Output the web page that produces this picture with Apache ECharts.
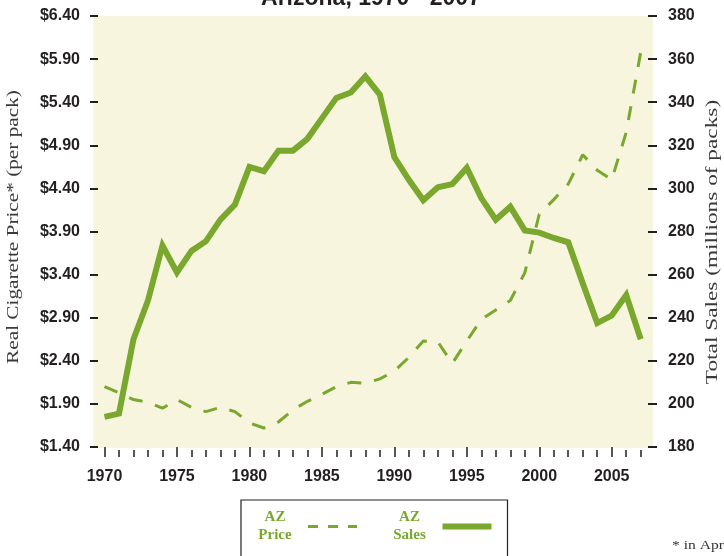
<!DOCTYPE html>
<html>
<head>
<meta charset="utf-8">
<script src="https://cdn.jsdelivr.net/npm/echarts@6/dist/echarts.min.js"></script>
<style>
  html, body { margin: 0; padding: 0; background: #ffffff; }
  #chart { width: 724px; height: 556px; }
</style>
</head>
<body>
<div id="chart"></div>
<script>
// Arizona cigarette price (real, per pack) and total sales, 1970-2007
const years = ['1970', '1971', '1972', '1973', '1974', '1975', '1976', '1977', '1978', '1979',
               '1980', '1981', '1982', '1983', '1984', '1985', '1986', '1987', '1988', '1989',
               '1990', '1991', '1992', '1993', '1994', '1995', '1996', '1997', '1998', '1999',
               '2000', '2001', '2002', '2003', '2004', '2005', '2006', '2007'];

// Real price in dollars per pack (left axis)
const priceValues = [2.10, 2.03, 1.95, 1.92, 1.85, 1.95, 1.86, 1.81, 1.86, 1.81,
                     1.68, 1.62, 1.69, 1.83, 1.93, 2.01, 2.10, 2.15, 2.14, 2.19,
                     2.28, 2.44, 2.63, 2.62, 2.37, 2.63, 2.88, 2.99, 3.10, 3.42,
                     4.10, 4.27, 4.45, 4.79, 4.61, 4.50, 5.05, 5.98];

// Total sales in millions of packs (right axis)
const salesValues = [194, 195.5, 230, 248, 273.5, 261, 271, 275.5, 285.5, 292.5,
                     310, 308, 317.5, 317.5, 323, 332.5, 342, 344.5, 352, 343.5,
                     314.5, 304, 294.5, 300.5, 302, 309.5, 295.5, 285.5, 291.5, 280.5,
                     279.5, 277, 275, 256, 237.5, 241, 250.5, 230];

// Axis scales
const priceAxis = { min: 1.40, max: 6.40, step: 0.5 };
const salesAxis = { min: 180, max: 380, step: 20 };

// Text
const seriesNames = ['AZ Price', 'AZ Sales'];
const titleText = 'Arizona, 1970 - 2007';
const priceAxisTitle = 'Real Cigarette Price* (per pack)';
const salesAxisTitle = 'Total Sales (millions of packs)';
const footnoteText = '* in April 2008 dollars';

const GREEN = '#7aa72d';
const INK = '#231f20';
const PAPER = '#f7f5dd';
const SANS = '"Liberation Sans", Arial, Helvetica, sans-serif';
const SERIF = '"Liberation Serif", "Times New Roman", serif';

const tickLabel = { fontFamily: SANS, fontWeight: 'bold', fontSize: 16, color: INK };

const chart = echarts.init(document.getElementById('chart'), null, { renderer: 'canvas' });

chart.setOption({
  animation: false,
  backgroundColor: '#ffffff',
  title: {
    text: titleText,
    left: 371, top: -13, padding: 0, textAlign: 'center',
    textStyle: { fontFamily: SANS, fontWeight: 'bold', fontSize: 23, color: INK }
  },
  grid: [
    // cream plotting panel
    { left: 93.5, right: 71, top: 16, bottom: 108, show: true, backgroundColor: PAPER, borderWidth: 0 },
    // data area, 1970 to 2007
    { left: 104.5, right: 83.3, top: 16, bottom: 109 }
  ],
  xAxis: [
    { gridIndex: 0, type: 'category', data: years, show: false },
    {
      // yearly minor ticks
      gridIndex: 1, type: 'category', data: years, boundaryGap: false,
      position: 'bottom', offset: 3,
      axisLine: { show: false },
      axisTick: { show: true, interval: 0, length: 7, lineStyle: { color: INK, width: 1.5 } },
      axisLabel: { show: false },
      splitLine: { show: false }
    },
    {
      // five-year ticks with labels
      gridIndex: 1, type: 'category', data: years, boundaryGap: false,
      position: 'bottom', offset: 0,
      axisLine: { show: false },
      axisTick: { show: true, interval: 4, length: 10, lineStyle: { color: INK, width: 1.5 } },
      axisLabel: Object.assign({ interval: 4, margin: 22 }, tickLabel),
      splitLine: { show: false }
    }
  ],
  yAxis: [
    { gridIndex: 0, type: 'value', show: false },
    {
      gridIndex: 1, type: 'value', position: 'left', offset: 6.5,
      min: priceAxis.min, max: priceAxis.max, interval: priceAxis.step,
      axisLine: { show: false },
      axisTick: { show: true, length: 8, lineStyle: { color: INK, width: 2 } },
      axisLabel: Object.assign({ margin: 18, formatter: v => '$' + v.toFixed(2) }, tickLabel),
      splitLine: { show: false }
    },
    {
      gridIndex: 1, type: 'value', position: 'right', offset: 7.3,
      min: salesAxis.min, max: salesAxis.max, interval: salesAxis.step,
      axisLine: { show: false },
      axisTick: { show: true, length: 9, lineStyle: { color: INK, width: 2 } },
      axisLabel: Object.assign({ margin: 20, formatter: v => String(Math.round(v)) }, tickLabel),
      splitLine: { show: false }
    }
  ],
  legend: {
    left: 241, top: 500,
    orient: 'horizontal',
    align: 'right',
    padding: [10, 13, 25, 6],
    itemGap: 23,
    itemWidth: 49,
    itemHeight: 14,
    borderColor: '#222222',
    borderWidth: 1.2,
    selectedMode: false,
    data: [
      { name: seriesNames[0], itemStyle: { opacity: 0 },
        lineStyle: { color: GREEN, width: 3, type: [10, 10] } },
      { name: seriesNames[1], itemStyle: { opacity: 0 },
        lineStyle: { color: GREEN, width: 6 } }
    ],
    formatter: name => name.split(' ').map(w => '{t|' + w + '}').join('\n'),
    textStyle: {
      rich: {
        t: { width: 56, align: 'center', fontFamily: SERIF, fontWeight: 'bold',
             fontSize: 15, lineHeight: 18, color: GREEN }
      }
    }
  },
  graphic: [
    {
      type: 'text', x: 14, y: 227, rotation: Math.PI / 2, scaleX: 1.25,
      style: { text: priceAxisTitle, font: '17px ' + SERIF, fill: '#3a3a3a',
               align: 'center', verticalAlign: 'middle' }
    },
    {
      type: 'text', x: 713, y: 242, rotation: Math.PI / 2, scaleX: 1.37,
      style: { text: salesAxisTitle, font: '17px ' + SERIF, fill: '#3a3a3a',
               align: 'center', verticalAlign: 'middle' }
    },
    {
      type: 'text', x: 672, y: 552, scaleX: 1.2,
      style: { text: footnoteText, font: '13px ' + SERIF, fill: '#333333',
               align: 'left', verticalAlign: 'bottom' }
    }
  ],
  series: [
    {
      name: seriesNames[1], type: 'line', xAxisIndex: 2, yAxisIndex: 2,
      data: salesValues, symbol: 'none', z: 2,
      itemStyle: { color: GREEN },
      lineStyle: { color: GREEN, width: 6, join: 'miter' }
    },
    {
      name: seriesNames[0], type: 'line', xAxisIndex: 2, yAxisIndex: 1,
      data: priceValues, symbol: 'none', z: 3,
      itemStyle: { color: GREEN },
      lineStyle: { color: GREEN, width: 3, type: [14, 13] }
    }
  ]
});
</script>
</body>
</html>
